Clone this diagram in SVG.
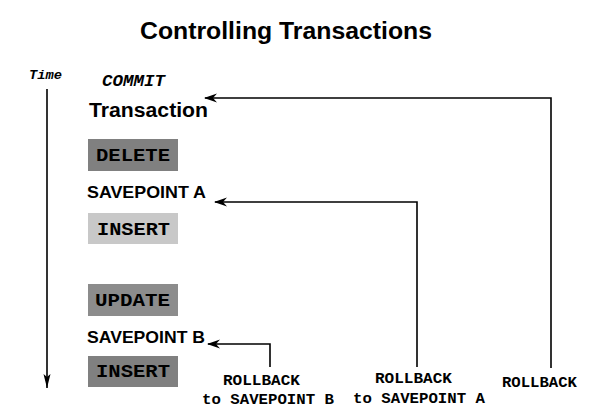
<svg xmlns="http://www.w3.org/2000/svg" width="591" height="413" viewBox="0 0 591 413">
<defs>
<style>
.title{font-family:"Liberation Sans",Arial,sans-serif;font-weight:bold;font-size:23px;fill:#000}
.sans{font-family:"Liberation Sans",Arial,sans-serif;font-weight:bold;fill:#000}
.mono{font-family:"Liberation Mono","Courier New",monospace;font-weight:bold;fill:#000}
.it{font-style:italic}
.box{stroke:none}
.conn{fill:none;stroke:#000;stroke-width:1.6}
</style>
<marker id="ah" markerUnits="userSpaceOnUse" markerWidth="14" markerHeight="10" viewBox="0 0 14 10" refX="13" refY="5" orient="auto">
<path d="M14,5 L1,0.5 L5,5 L1,9.5 Z" fill="#000"/>
</marker>
<marker id="ahd" markerUnits="userSpaceOnUse" markerWidth="14" markerHeight="8" viewBox="0 0 14 8" refX="14" refY="4" orient="auto">
<path d="M14,4 L0,0.5 L3,4 L0,7.5 Z" fill="#000"/>
</marker>
</defs>
<rect width="591" height="413" fill="#fff"/>
<text class="title" x="140" y="39" textLength="292" lengthAdjust="spacingAndGlyphs">Controlling Transactions</text>
<g id="time">
<text class="mono it" x="29" y="79" font-size="12" textLength="33" lengthAdjust="spacingAndGlyphs">Time</text>
<line class="conn" x1="47" y1="89" x2="47" y2="388" marker-end="url(#ahd)"/>
</g>
<g id="commit">
<text class="mono it" x="102" y="86" font-size="16" textLength="63" lengthAdjust="spacingAndGlyphs">COMMIT</text>
</g>
<g id="transaction">
<text class="sans" x="89" y="117" font-size="20" textLength="119" lengthAdjust="spacingAndGlyphs">Transaction</text>
</g>
<g id="delete">
<rect class="box" x="88" y="139" width="90" height="32" fill="#808080"/>
<text class="mono" x="96" y="161" font-size="18" textLength="74" lengthAdjust="spacingAndGlyphs">DELETE</text>
</g>
<g id="savepointA">
<text class="sans" x="87" y="198" font-size="16.5" textLength="119" lengthAdjust="spacingAndGlyphs">SAVEPOINT A</text>
</g>
<g id="insert1">
<rect class="box" x="88" y="213" width="90" height="31" fill="#c8c8c8"/>
<text class="mono" x="97" y="235" font-size="18" textLength="73" lengthAdjust="spacingAndGlyphs">INSERT</text>
</g>
<g id="update">
<rect class="box" x="88" y="284" width="90" height="32" fill="#8c8c8c"/>
<text class="mono" x="95" y="306" font-size="18" textLength="75" lengthAdjust="spacingAndGlyphs">UPDATE</text>
</g>
<g id="savepointB">
<text class="sans" x="87" y="343" font-size="16.5" textLength="118" lengthAdjust="spacingAndGlyphs">SAVEPOINT B</text>
</g>
<g id="insert2">
<rect class="box" x="88" y="356" width="90" height="31" fill="#808080"/>
<text class="mono" x="96" y="377" font-size="18" textLength="74" lengthAdjust="spacingAndGlyphs">INSERT</text>
</g>
<g id="rollbackB">
<text class="mono" x="223" y="385" font-size="14" textLength="77" lengthAdjust="spacingAndGlyphs">ROLLBACK</text>
<text class="mono" x="202" y="404" font-size="14" textLength="132" lengthAdjust="spacingAndGlyphs">to SAVEPOINT B</text>
</g>
<g id="rollbackA">
<text class="mono" x="375" y="383" font-size="14" textLength="77" lengthAdjust="spacingAndGlyphs">ROLLBACK</text>
<text class="mono" x="353" y="403" font-size="14" textLength="132" lengthAdjust="spacingAndGlyphs">to SAVEPOINT A</text>
</g>
<g id="rollback">
<text class="mono" x="502" y="387" font-size="14" textLength="75" lengthAdjust="spacingAndGlyphs">ROLLBACK</text>
</g>
<g id="connectors">
<polyline class="conn" points="270,367 270,344 208,344" marker-end="url(#ah)"/>
<polyline class="conn" points="417,367 417,202 215,202" marker-end="url(#ah)"/>
<polyline class="conn" points="551,368 551,98 205,98" marker-end="url(#ah)"/>
</g>
</svg>
